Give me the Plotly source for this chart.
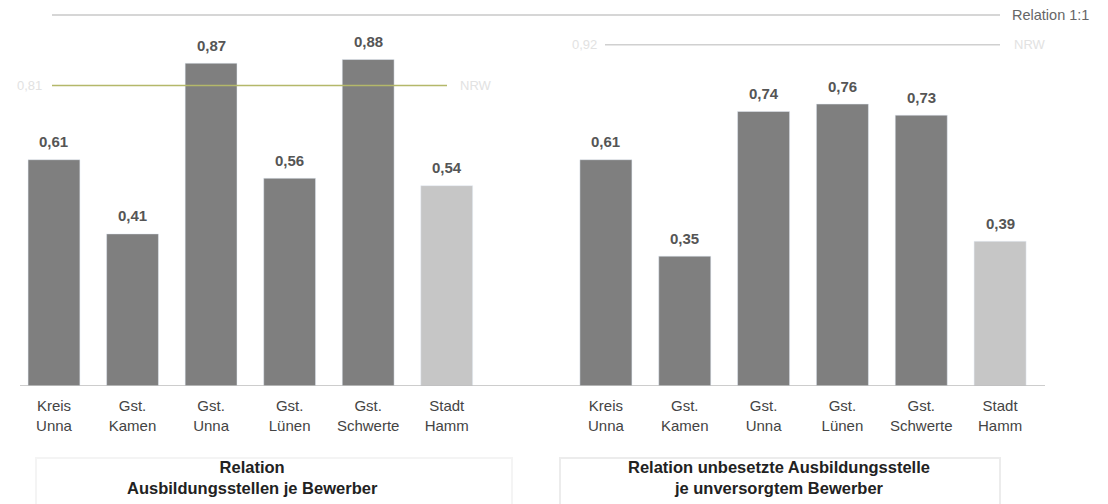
import plotly.graph_objects as go

categories = ["Kreis<br>Unna", "Gst.<br>Kamen", "Gst.<br>Unna", "Gst.<br>Lünen", "Gst.<br>Schwerte", "Stadt<br>Hamm"]
left_values = [0.61, 0.41, 0.87, 0.56, 0.88, 0.54]
right_values = [0.61, 0.35, 0.74, 0.76, 0.73, 0.39]
bar_colors = ["#7f7f7f"] * 5 + ["#c6c6c6"]
nrw_left = 0.81
nrw_right = 0.92
relation = 1.0
left_title = "<b>Relation<br>Ausbildungsstellen je Bewerber</b>"
right_title = "<b>Relation unbesetzte Ausbildungsstelle<br>je unversorgtem Bewerber</b>"

W, H = 1108, 504
OFF = 8          # page body offset in the browser
PLOT_H = 378     # plot area height in figure coords (screen 8..386)
FONT = "Liberation Sans, Arial"


def px(x):
    return (x - OFF) / W


def py(y):
    return (PLOT_H - (y - OFF)) / PLOT_H


def fmt(v):
    return f"{v:.2f}".replace(".", ",")


fig = go.Figure()
for vals, xa, ya in [(left_values, "x", "y"), (right_values, "x2", "y2")]:
    fig.add_trace(go.Bar(x=categories, y=vals, marker_color=bar_colors,
                         xaxis=xa, yaxis=ya, showlegend=False, hoverinfo="x+y"))
    for c, v in zip(categories, vals):
        fig.add_annotation(x=c, y=v, xref=xa, yref=ya, text=fmt(v), showarrow=False,
                           yanchor="middle", yshift=18,
                           font=dict(family=FONT, size=15, color="#555555", weight=600))

ymax = PLOT_H / 371.0
ax_common = dict(showgrid=False, zeroline=False, showline=False, ticks="",
                 ticklabelstandoff=9,
                 tickfont=dict(family=FONT, size=15, color="#444444"))
fig.update_layout(
    width=W, height=H,
    margin=dict(l=0, r=0, t=0, b=H - PLOT_H),
    plot_bgcolor="white", paper_bgcolor="white",
    bargap=0.34,
    font=dict(family=FONT, color="#444444"),
    xaxis=dict(domain=[px(14.7), px(486)], **ax_common),
    xaxis2=dict(domain=[px(566.5), px(1039.5)], anchor="y2", **ax_common),
    yaxis=dict(range=[0, ymax], visible=False),
    yaxis2=dict(range=[0, ymax], visible=False, anchor="x2"),
)

# baseline
fig.add_shape(type="line", xref="paper", yref="y", x0=px(20), x1=px(1045), y0=0, y1=0,
              line=dict(color="#bdbdbd", width=1.5))
# relation 1:1
fig.add_shape(type="line", xref="paper", yref="y", x0=px(52), x1=px(1000), y0=relation, y1=relation,
              line=dict(color="#c8c8c8", width=1.5))
fig.add_annotation(x=px(1010), xref="paper", y=relation, yref="y", text="Relation 1:1",
                   showarrow=False, xanchor="left", font=dict(size=14.5, color="#666666"))
# NRW left
fig.add_shape(type="line", xref="paper", yref="y", x0=px(52), x1=px(447), y0=nrw_left, y1=nrw_left,
              line=dict(color="#b4b86a", width=1.5))
fig.add_annotation(x=px(44), xref="paper", y=nrw_left, yref="y", text=fmt(nrw_left),
                   showarrow=False, xanchor="right", font=dict(size=13, color="#e2e2e2"))
fig.add_annotation(x=px(458), xref="paper", y=nrw_left, yref="y", text="NRW",
                   showarrow=False, xanchor="left", font=dict(size=13, color="#e2e2e2"))
# NRW right
fig.add_shape(type="line", xref="paper", yref="y2", x0=px(605), x1=px(1000), y0=nrw_right, y1=nrw_right,
              line=dict(color="#d0d0d0", width=1.5))
fig.add_annotation(x=px(599), xref="paper", y=nrw_right, yref="y2", text=fmt(nrw_right),
                   showarrow=False, xanchor="right", font=dict(size=13, color="#e2e2e2"))
fig.add_annotation(x=px(1012), xref="paper", y=nrw_right, yref="y2", text="NRW",
                   showarrow=False, xanchor="left", font=dict(size=13, color="#e2e2e2"))

# titles
fig.add_annotation(x=px(252), xref="paper", y=py(477), yref="paper", text=left_title,
                   showarrow=False, font=dict(size=16.5, color="#222222"), align="center",
                   xanchor="center", yanchor="middle")
fig.add_annotation(x=px(779), xref="paper", y=py(477), yref="paper", text=right_title,
                   showarrow=False, font=dict(size=16.5, color="#222222"), align="center",
                   xanchor="center", yanchor="middle")
fig.add_shape(type="rect", xref="paper", yref="paper", x0=px(36), x1=px(512),
              y0=py(520), y1=py(458), line=dict(color="#f4f4f4", width=2))
fig.add_shape(type="rect", xref="paper", yref="paper", x0=px(560), x1=px(1000),
              y0=py(520), y1=py(458), line=dict(color="#ececec", width=2))

fig.write_html("out.html")
